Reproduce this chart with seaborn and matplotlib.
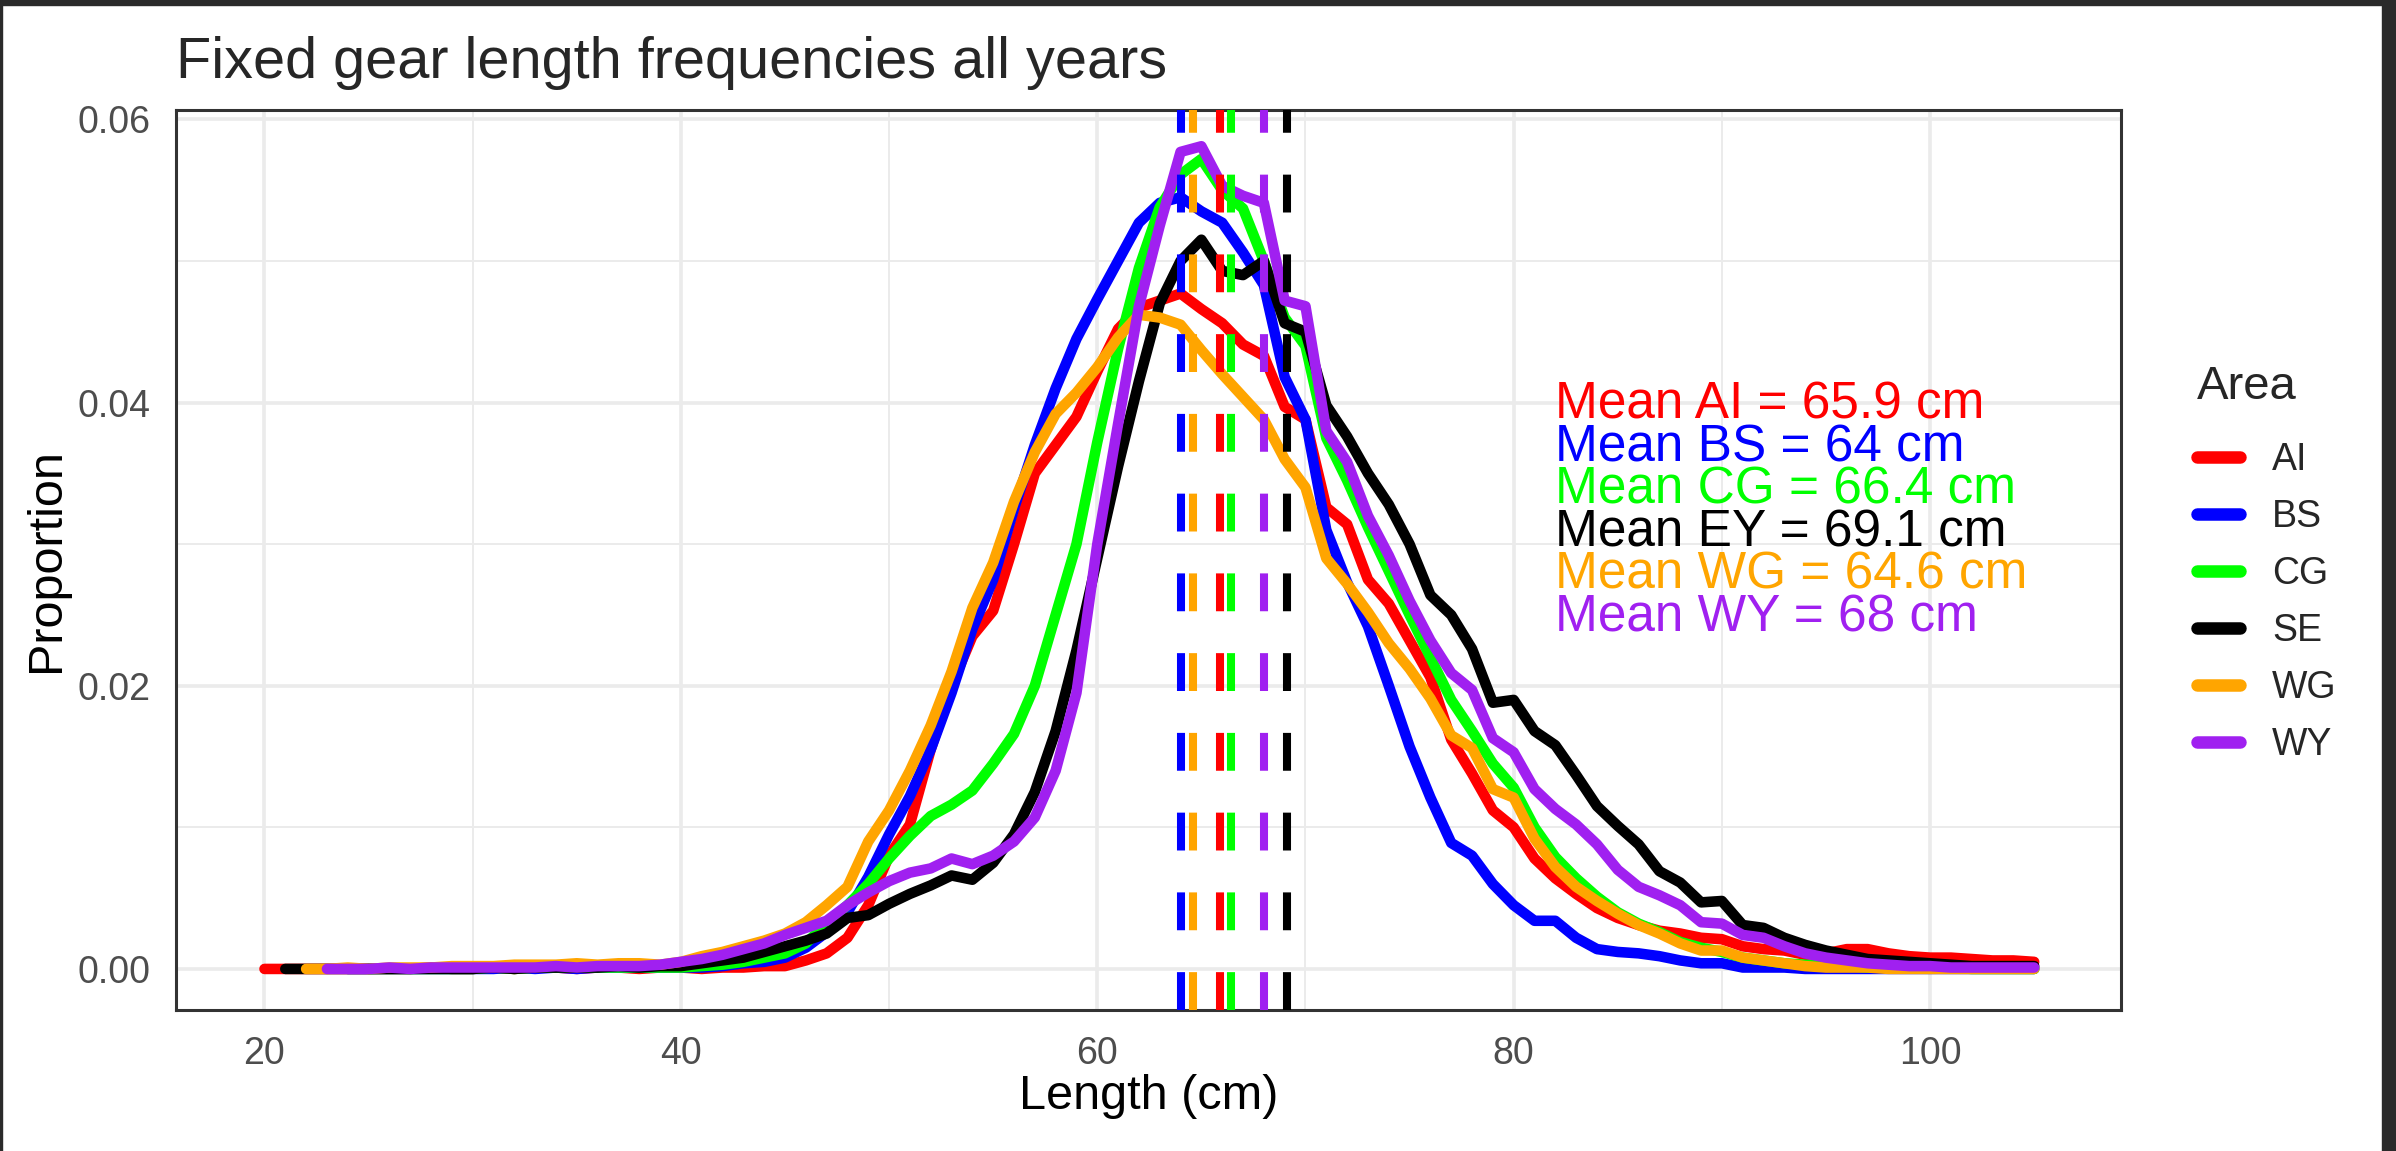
import numpy as np
import pandas as pd
import matplotlib
matplotlib.use("Agg")
import matplotlib.pyplot as plt
from matplotlib.patches import Rectangle
from matplotlib.ticker import MultipleLocator, FormatStrFormatter
import seaborn as sns

# ---- data (proportion per 1 cm length bin) ----
areas = ["AI", "BS", "CG", "SE", "WG", "WY"]
area_colors = ["#FF0000", "#0000FF", "#00FF00", "#000000", "#FFA500", "#A020F0"]
start_len = [20, 24, 25, 21, 22, 23]   # first length bin of each area (last is 105)

ai = [0.0000, 0.0000, 0.0000, 0.0000, 0.0000, 0.0000, 0.0000, 0.0000, 0.0001, 0.0000,
      0.0000, 0.0001, 0.0000, 0.0001, 0.0001, 0.0000, 0.0001, 0.0001, 0.0000, 0.0001,
      0.0001, 0.0000, 0.0001, 0.0001, 0.0002, 0.0002, 0.0006, 0.0011, 0.0022, 0.0045,
      0.0080, 0.0102, 0.0155, 0.0200, 0.0235, 0.0253, 0.0300, 0.0350, 0.0370, 0.0390,
      0.0422, 0.0452, 0.0467, 0.0472, 0.0477, 0.0466, 0.0456, 0.0441, 0.0433, 0.0397,
      0.0388, 0.0326, 0.0314, 0.0275, 0.0258, 0.0232, 0.0206, 0.0162, 0.0138, 0.0112,
      0.0100, 0.0078, 0.0064, 0.0053, 0.0043, 0.0036, 0.0031, 0.0027, 0.0025, 0.0022,
      0.0021, 0.0016, 0.0014, 0.0013, 0.0010, 0.0011, 0.0014, 0.0014, 0.0011, 0.0009,
      0.0008, 0.0008, 0.0007, 0.0006, 0.0006, 0.0005]

bs = [0.0000, 0.0000, 0.0000, 0.0000, 0.0000, 0.0000,
      0.0000, 0.0000, 0.0001, 0.0000, 0.0001, 0.0000, 0.0001, 0.0001, 0.0001, 0.0001,
      0.0001, 0.0001, 0.0002, 0.0004, 0.0005, 0.0008, 0.0015, 0.0026, 0.0040, 0.0065,
      0.0095, 0.0122, 0.0155, 0.0195, 0.0240, 0.0275, 0.0325, 0.0370, 0.0410, 0.0445,
      0.0473, 0.0500, 0.0527, 0.0541, 0.0545, 0.0535, 0.0527, 0.0506, 0.0483, 0.0418,
      0.0388, 0.0310, 0.0273, 0.0242, 0.0200, 0.0157, 0.0121, 0.0089, 0.0080, 0.0060,
      0.0045, 0.0034, 0.0034, 0.0022, 0.0014, 0.0012, 0.0011, 0.0009, 0.0006, 0.0004,
      0.0004, 0.0001, 0.0001, 0.0001, 0.0000, 0.0000, 0.0000, 0.0000, 0.0000, 0.0000,
      0.0000, 0.0000, 0.0000, 0.0000, 0.0000, 0.0000]

cg = [0.0000, 0.0000, 0.0000, 0.0000, 0.0000,
      0.0000, 0.0001, 0.0000, 0.0001, 0.0001, 0.0001, 0.0001, 0.0001, 0.0001, 0.0001,
      0.0001, 0.0002, 0.0003, 0.0005, 0.0008, 0.0011, 0.0018, 0.0032, 0.0045, 0.0060,
      0.0078, 0.0094, 0.0108, 0.0116, 0.0126, 0.0145, 0.0166, 0.0200, 0.0250, 0.0300,
      0.0372, 0.0438, 0.0495, 0.0538, 0.0561, 0.0572, 0.0550, 0.0537, 0.0500, 0.0460,
      0.0440, 0.0375, 0.0345, 0.0312, 0.0281, 0.0250, 0.0220, 0.0190, 0.0168, 0.0145,
      0.0128, 0.0100, 0.0079, 0.0064, 0.0051, 0.0040, 0.0032, 0.0026, 0.0019, 0.0015,
      0.0012, 0.0008, 0.0006, 0.0004, 0.0003, 0.0002, 0.0002, 0.0001, 0.0001, 0.0001,
      0.0001, 0.0001, 0.0000, 0.0000, 0.0000, 0.0000]

se = [0.0000, 0.0000, 0.0000, 0.0000, 0.0000, 0.0000, 0.0000, 0.0000, 0.0000,
      0.0000, 0.0001, 0.0000, 0.0001, 0.0001, 0.0001, 0.0001, 0.0002, 0.0001, 0.0002,
      0.0002, 0.0004, 0.0006, 0.0008, 0.0012, 0.0016, 0.0020, 0.0025, 0.0036, 0.0038,
      0.0046, 0.0053, 0.0059, 0.0066, 0.0063, 0.0075, 0.0095, 0.0125, 0.0168, 0.0225,
      0.0290, 0.0355, 0.0415, 0.0470, 0.0500, 0.0515, 0.0493, 0.0490, 0.0500, 0.0456,
      0.0450, 0.0398, 0.0376, 0.0350, 0.0328, 0.0300, 0.0264, 0.0250, 0.0226, 0.0188,
      0.0190, 0.0168, 0.0158, 0.0137, 0.0115, 0.0101, 0.0088, 0.0069, 0.0061, 0.0047,
      0.0048, 0.0031, 0.0029, 0.0022, 0.0017, 0.0013, 0.0010, 0.0007, 0.0006, 0.0005,
      0.0004, 0.0003, 0.0002, 0.0002, 0.0002, 0.0002]

wg = [0.0000, 0.0000, 0.0001, 0.0000, 0.0001, 0.0001, 0.0001, 0.0002,
      0.0002, 0.0002, 0.0003, 0.0003, 0.0003, 0.0004, 0.0003, 0.0004, 0.0004, 0.0003,
      0.0005, 0.0009, 0.0012, 0.0016, 0.0020, 0.0025, 0.0033, 0.0045, 0.0058, 0.0090,
      0.0112, 0.0140, 0.0172, 0.0210, 0.0255, 0.0287, 0.0330, 0.0365, 0.0392, 0.0407,
      0.0425, 0.0446, 0.0462, 0.0460, 0.0455, 0.0437, 0.0420, 0.0404, 0.0388, 0.0360,
      0.0340, 0.0290, 0.0272, 0.0252, 0.0230, 0.0212, 0.0191, 0.0165, 0.0156, 0.0127,
      0.0121, 0.0092, 0.0072, 0.0058, 0.0048, 0.0039, 0.0031, 0.0025, 0.0018, 0.0013,
      0.0013, 0.0008, 0.0006, 0.0004, 0.0002, 0.0001, 0.0001, 0.0001, 0.0000, 0.0000,
      0.0000, 0.0000, 0.0000, 0.0000, 0.0000, 0.0000]

wy = [0.0000, 0.0000, 0.0000, 0.0001, 0.0000, 0.0001, 0.0001,
      0.0001, 0.0001, 0.0001, 0.0001, 0.0002, 0.0001, 0.0002, 0.0002, 0.0002, 0.0003,
      0.0005, 0.0007, 0.0010, 0.0014, 0.0018, 0.0024, 0.0029, 0.0034, 0.0045, 0.0054,
      0.0062, 0.0068, 0.0071, 0.0078, 0.0074, 0.0080, 0.0090, 0.0107, 0.0140, 0.0195,
      0.0300, 0.0385, 0.0468, 0.0525, 0.0577, 0.0581, 0.0553, 0.0546, 0.0541, 0.0472,
      0.0468, 0.0380, 0.0358, 0.0320, 0.0292, 0.0260, 0.0232, 0.0209, 0.0197, 0.0163,
      0.0153, 0.0127, 0.0113, 0.0102, 0.0088, 0.0070, 0.0058, 0.0052, 0.0045, 0.0033,
      0.0032, 0.0024, 0.0022, 0.0016, 0.0011, 0.0008, 0.0006, 0.0004, 0.0003, 0.0002,
      0.0002, 0.0001, 0.0001, 0.0001, 0.0001, 0.0001]

mean_len = [65.9, 64, 66.4, 69.1, 64.6, 68]
mean_tags = ["AI", "BS", "CG", "EY", "WG", "WY"]
text_y = [0.040, 0.037, 0.034, 0.031, 0.028, 0.025]
text_x = 82

# long-form table for seaborn
props = [ai, bs, cg, se, wg, wy]
frames = []
for area, start, vals in zip(areas, start_len, props):
    frames.append(pd.DataFrame({"Length": np.arange(start, start + len(vals)),
                                "Proportion": vals, "Area": area}))
df = pd.concat(frames, ignore_index=True)

sns.set_theme(style="white")
plt.rcParams["font.family"] = ["Liberation Sans", "DejaVu Sans"]

W, H = 2396, 1151
fig = plt.figure(figsize=(W / 100, H / 100), dpi=100)
fig.patch.set_facecolor("white")
ax = fig.add_axes([176 / W, 1 - 1010 / H, (2121 - 176) / W, (1010 - 110) / H])

sns.lineplot(data=df, x="Length", y="Proportion", hue="Area", hue_order=areas,
             palette=dict(zip(areas, area_colors)), linewidth=7.6, ax=ax)

# mean lines and labels
for m, c in zip(mean_len, area_colors):
    ax.axvline(m, color=c, lw=5.8, linestyle=(0, (4.7, 5.2)), zorder=4)
for m, tag, c, y in zip(mean_len, mean_tags, area_colors, text_y):
    ax.text(text_x, y - 0.0002, f"Mean {tag} = {m:g} cm", color=c, fontsize=37,
            ha="left", va="center", zorder=5)

ax.set_xlim(15.75, 109.17)
ax.set_ylim(-0.0029, 0.06066)
ax.xaxis.set_major_locator(MultipleLocator(20))
ax.xaxis.set_minor_locator(MultipleLocator(10))
ax.yaxis.set_major_locator(MultipleLocator(0.02))
ax.yaxis.set_minor_locator(MultipleLocator(0.01))
ax.yaxis.set_major_formatter(FormatStrFormatter("%.2f"))
ax.grid(True, which="major", color="#EBEBEB", lw=2.6)
ax.grid(True, which="minor", color="#EBEBEB", lw=1.4)
ax.set_axisbelow(True)
ax.tick_params(which="major", length=9.4, width=2.2, color="#333333",
               labelsize=27, labelcolor="#4D4D4D", pad=9)
ax.tick_params(which="minor", length=0)
for sp in ax.spines.values():
    sp.set_color("#333333")
    sp.set_linewidth(2.2)

ax.set_xlabel("Length (cm)", fontsize=35, color="black", labelpad=2)
ax.set_ylabel("Proportion", fontsize=35, color="black")
ax.yaxis.set_label_coords(-0.055, 0.5)

fig.text(176 / W, 1 - 78 / H, "Fixed gear length frequencies all years",
         fontsize=41.5, ha="left", va="baseline")

sns.move_legend(ax, "upper left", bbox_to_anchor=(2197 / W, 1 - 365 / H),
                bbox_transform=fig.transFigure, frameon=False, title="Area",
                fontsize=27, title_fontsize=34, handlelength=1.15,
                handletextpad=0.85, labelspacing=0.56, borderpad=0,
                borderaxespad=0, alignment="left")
leg = ax.get_legend()
leg._legend_box.sep = 24
for h in leg.get_lines():
    h.set_linewidth(9)

# dark screenshot frame
fig.patches.append(Rectangle((0, 1 - 5 / H), 1, 5 / H, transform=fig.transFigure,
                             color="#2a2a2a", zorder=10))
fig.patches.append(Rectangle((2382 / W, 0), 14 / W, 1, transform=fig.transFigure,
                             color="#2a2a2a", zorder=10))
fig.patches.append(Rectangle((0, 0), 2 / W, 1, transform=fig.transFigure,
                             color="#2a2a2a", zorder=10))

fig.savefig("out.png", dpi=100)
